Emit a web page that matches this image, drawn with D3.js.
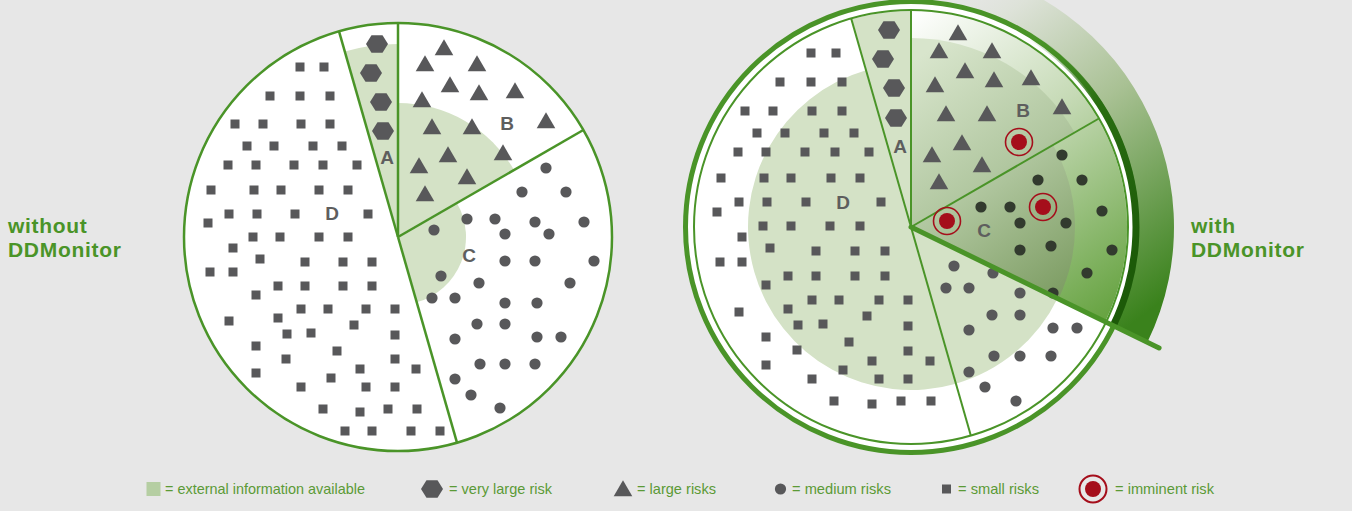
<!DOCTYPE html>
<html>
<head>
<meta charset="utf-8">
<script src="https://cdn.jsdelivr.net/npm/d3@7"></script>
<style>
body { margin: 0; background: #e7e7e7; overflow: hidden; }
</style>
</head>
<body>
<div id="chart"></div>
<script>
// slices of the risk pie, edges in degrees clockwise from 12 o'clock
var sliceNames = ["A", "B", "C", "D"];
var sliceEdges = [-16, 0, 60, 164, 344];
var hotEdge = 116; // monitored part of C ends here

// reach of the "external information" shading per slice
var shadeLeft = [193, 134, 68, 0];
var shadeRight = [216, 189, 163, 163];

// markers, offsets from the pie centre
var hexLeft = [[-21,-193],[-27,-164],[-17,-135],[-15,-106]];
var triLeft = [[46,-189],[27,-173],[79,-173],[52,-152],[81,-144],[117,-146],[24,-137],[34,-110],[74,-110],
               [148,-116],[50,-82],[105,-84],[21,-71],[69,-60],[27,-43]];
var dotLeft = [[148,-69],[124,-45],[168,-45],[69,-18],[97,-18],[137,-15],[186,-15],[107,-3],[151,-3],[36,-7],
               [107,24],[137,24],[196,24],[43,39],[81,46],[172,46],[34,61],[57,61],[107,66],[139,66],
               [79,87],[107,87],[57,102],[139,100],[163,100],[82,127],[107,127],[137,127],[57,142],[73,158],[102,171]];
var sqLeft = [[-98,-170],[-74,-170],[-128,-141],[-98,-141],[-68,-141],[-163,-113],[-135,-113],[-97,-113],[-68,-113],
              [-151,-91],[-124,-91],[-85,-91],[-56,-91],[-170,-72],[-142,-72],[-104,-72],[-75,-72],[-41,-72],
              [-187,-47],[-144,-47],[-117,-47],[-79,-47],[-50,-47],[-190,-14],[-169,-23],[-141,-23],[-103,-23],[-30,-23],
              [-145,0],[-118,0],[-79,0],[-50,0],[-165,11],[-138,22],[-93,25],[-55,25],[-26,25],[-188,35],[-165,35],
              [-142,58],[-120,49],[-93,49],[-55,49],[-26,49],[-97,72],[-70,72],[-32,72],[-3,72],
              [-169,84],[-120,81],[-111,97],[-87,96],[-44,88],[-3,98],[-142,109],[-112,122],[-61,114],[-3,122],
              [-142,136],[-97,150],[-67,141],[-38,132],[-32,150],[-3,150],[18,132],
              [-75,172],[-38,175],[-10,172],[19,172],[-53,194],[-26,194],[13,194],[42,194]];

var hexRight = [[-22,-197],[-28,-168],[-17,-139],[-15,-109]];
var triRight = [[47,-194],[28,-176],[81,-176],[54,-156],[83,-147],[120,-149],[24,-142],[35,-113],[76,-113],
                [151,-120],[51,-84],[21,-72],[71,-62],[28,-45]];
var dotRight = [[151,-72],[127,-47],[171,-47],[70,-20],[99,-20],[109,-4],[155,-4],[191,-16],[109,23],[140,19],
                [201,23],[176,46],[142,66],[43,39],[82,46],[35,61],[58,61],[109,66],[81,88],[109,88],
                [58,103],[142,101],[166,101],[83,129],[109,129],[140,129],[58,145],[74,160],[105,174]];
var sqRight = [[-100,-174],[-75,-174],[-131,-145],[-100,-145],[-69,-145],[-166,-116],[-138,-116],[-99,-116],[-69,-116],
               [-154,-94],[-126,-94],[-87,-94],[-57,-94],[-173,-75],[-145,-75],[-106,-75],[-76,-75],[-42,-75],
               [-190,-49],[-147,-49],[-120,-49],[-80,-49],[-51,-49],[-194,-15],[-172,-25],[-144,-25],[-105,-25],[-30,-25],
               [-148,-1],[-120,-1],[-81,-1],[-51,-1],[-169,10],[-141,21],[-95,24],[-56,24],[-26,24],[-191,35],[-169,35],
               [-145,58],[-123,49],[-95,49],[-56,49],[-26,49],[-99,73],[-72,73],[-32,73],[-3,73],
               [-172,85],[-123,82],[-113,98],[-88,97],[-44,89],[-3,99],[-145,110],[-114,123],[-62,115],[-3,124],
               [-145,138],[-99,152],[-68,143],[-39,134],[-32,152],[-3,152],[19,134],
               [-77,174],[-39,177],[-10,174],[20,174]];
var imminentRight = [[108,-85],[36,-6],[132,-20]];

// slice letters
var labelLeft = [[-11,-80],[109,-114],[71,18],[-66,-24]];
var labelRight = [[-11,-81],[112,-117],[73,3],[-68,-25]];

var titleLeft = ["without", "DDMonitor"];
var titleRight = ["with", "DDMonitor"];

var legendLabels = ["= external information available", "= very large risk", "= large risks",
                    "= medium risks", "= small risks", "= imminent risk"];
var legendKinds = ["shade", "hex", "tri", "dot", "sq", "imminent"];

// ---- layout / styles ----
var width = 1352, height = 511;
var green = "#4a9428";
var shade = "#d4e2c6";
var grey = "#58585a";
var red = "#a50e1b";
var rad = Math.PI / 180;

var svg = d3.select("#chart").append("svg")
    .attr("width", width)
    .attr("height", height);

svg.append("rect").attr("width", width).attr("height", height).attr("fill", "#e7e7e7");

// gradients are given relative to the right pie centre
var defs = svg.append("defs");
function grad(id, x1, y1, x2, y2, stops) {
    var g = defs.append("linearGradient").attr("id", id)
        .attr("gradientUnits", "userSpaceOnUse")
        .attr("x1", x1).attr("y1", y1).attr("x2", x2).attr("y2", y2);
    stops.forEach(function(s) {
        g.append("stop").attr("offset", s[0]).attr("stop-color", s[1]).attr("stop-opacity", s[2] == null ? 1 : s[2]);
    });
}
grad("band", 15, -240, 250, 75, [[0, "#e7e7e7", 0], [0.18, "#dde2d8"], [0.5, "#a9c194"], [1, "#3a821c"]]);
grad("hotOuter", 4, -217, 214, 73, [[0, "#ffffff"], [0.45, "#c6dab6"], [1, "#68a443"]]);
grad("hotInner", 4, -167, 169, 58, [[0, "#d8e5cc"], [0.5, "#b1c7a0"], [1, "#7c9c62"]]);
grad("darkRim", 120, -190, 225, 30, [[0, "#3f8a1f", 0], [0.35, "#2a6e12"], [1, "#1c5a08"]]);

var hexPath = d3.line()(d3.range(6).map(function(i) {
    return [11 * Math.cos(i * 60 * rad), 10 * Math.sin(i * 60 * rad)];
})) + "Z";
var triPath = d3.symbol(d3.symbolTriangle, 150)();

function sector(r0, r1, a0, a1) {
    return d3.arc().innerRadius(r0).outerRadius(r1).startAngle(a0 * rad).endAngle(a1 * rad)();
}

// draws one set of markers through the pie's scales
function drawMarkers(g, x, y, hexes, tris, dots, squares, dotColor) {
    g.append("g").selectAll("rect").data(squares).enter().append("rect")
        .attr("x", function(d) { return x(d[0]) - 4.5; })
        .attr("y", function(d) { return y(d[1]) - 4.5; })
        .attr("width", 9).attr("height", 9)
        .attr("fill", grey);
    g.append("g").selectAll("path").data(hexes).enter().append("path")
        .attr("d", hexPath)
        .attr("transform", function(d) { return "translate(" + x(d[0]) + "," + y(d[1]) + ")"; })
        .attr("fill", grey);
    g.append("g").selectAll("path").data(tris).enter().append("path")
        .attr("d", triPath)
        .attr("transform", function(d) { return "translate(" + x(d[0]) + "," + (y(d[1]) + 2) + ")"; })
        .attr("fill", grey);
    g.append("g").selectAll("circle").data(dots).enter().append("circle")
        .attr("cx", function(d) { return x(d[0]); })
        .attr("cy", function(d) { return y(d[1]); })
        .attr("r", 5.6)
        .attr("fill", dotColor);
}

function drawLabels(g, x, y, labels) {
    g.append("g").selectAll("text").data(labels).enter().append("text")
        .attr("x", function(d) { return x(d[0]); })
        .attr("y", function(d) { return y(d[1]); })
        .attr("dy", "0.36em")
        .attr("text-anchor", "middle")
        .style("font-family", "'Liberation Sans', Arial, sans-serif")
        .style("font-weight", "bold")
        .style("font-size", "19px")
        .attr("fill", "#5e5e5e")
        .text(function(d, i) { return sliceNames[i]; });
}

function drawTitle(x, lines) {
    svg.append("g").selectAll("text").data(lines).enter().append("text")
        .attr("x", x)
        .attr("y", function(d, i) { return 233 + i * 24; })
        .style("font-family", "'Liberation Sans', Arial, sans-serif")
        .style("font-weight", "bold")
        .style("font-size", "21px")
        .style("letter-spacing", "0.7px")
        .attr("fill", green)
        .text(function(d) { return d; });
}

// ---------- left pie: without DDMonitor ----------
var lcx = 398, lcy = 237, lr = 214;
var lx = d3.scaleLinear().domain([-lr, lr]).range([lcx - lr, lcx + lr]);
var ly = d3.scaleLinear().domain([-lr, lr]).range([lcy - lr, lcy + lr]);

var left = svg.append("g");
left.append("circle").attr("cx", lcx).attr("cy", lcy).attr("r", lr).attr("fill", "#fff");

var lpie = left.append("g").attr("transform", "translate(" + lcx + "," + lcy + ")");
shadeLeft.forEach(function(r, i) {
    if (r > 0) lpie.append("path").attr("d", sector(0, r, sliceEdges[i], sliceEdges[i + 1])).attr("fill", shade);
});
sliceEdges.slice(0, 4).forEach(function(a) {
    var p = d3.pointRadial(a * rad, lr);
    lpie.append("line").attr("x1", 0).attr("y1", 0).attr("x2", p[0]).attr("y2", p[1])
        .attr("stroke", green).attr("stroke-width", 2.5);
});
lpie.append("circle").attr("r", lr)
    .attr("fill", "none").attr("stroke", green).attr("stroke-width", 2.5);

drawMarkers(left, lx, ly, hexLeft, triLeft, dotLeft, sqLeft, grey);
drawLabels(left, lx, ly, labelLeft);

// ---------- right pie: with DDMonitor ----------
var rcx = 911, rcy = 227, rr = 216;
var rx = d3.scaleLinear().domain([-rr, rr]).range([rcx - rr, rcx + rr]);
var ry = d3.scaleLinear().domain([-rr, rr]).range([rcy - rr, rcy + rr]);

var right = svg.append("g");
var rpie = right.append("g").attr("transform", "translate(" + rcx + "," + rcy + ")");

// gradient band outside the monitored sector
rpie.append("path").attr("d", sector(224, 263, sliceEdges[1], hotEdge)).attr("fill", "url(#band)");
rpie.append("circle").attr("r", 225.5).attr("fill", "#fff").attr("stroke", green).attr("stroke-width", 5);

// shading
rpie.append("path").attr("d", sector(0, shadeRight[0], sliceEdges[0], sliceEdges[1])).attr("fill", shade);
rpie.append("path").attr("d", sector(0, rr, sliceEdges[1], hotEdge)).attr("fill", "url(#hotOuter)");
rpie.append("path").attr("d", sector(0, shadeRight[1], sliceEdges[1], sliceEdges[2])).attr("fill", "url(#hotInner)");
rpie.append("path").attr("d", sector(0, shadeRight[2] + 1, sliceEdges[2], hotEdge)).attr("fill", "url(#hotInner)");
rpie.append("path").attr("d", sector(0, shadeRight[2], hotEdge, sliceEdges[3])).attr("fill", shade);
rpie.append("path").attr("d", sector(0, shadeRight[3], sliceEdges[3], sliceEdges[4])).attr("fill", shade);

rpie.append("circle").attr("r", 217).attr("fill", "none").attr("stroke", green).attr("stroke-width", 2);
sliceEdges.slice(0, 4).forEach(function(a) {
    var p = d3.pointRadial(a * rad, 217);
    rpie.append("line").attr("x1", 0).attr("y1", 0).attr("x2", p[0]).attr("y2", p[1])
        .attr("stroke", green).attr("stroke-width", 2);
});

// darker rim along the monitored sector
rpie.append("path").attr("d", sector(221.5, 228.5, 30, hotEdge)).attr("fill", "url(#darkRim)");

// dots inside the monitored sector look darker
function inHot(d) {
    var a = Math.atan2(d[0], -d[1]) / rad;
    return a > sliceEdges[2] && a < hotEdge;
}
drawMarkers(right, rx, ry, hexRight, triRight, dotRight.filter(function(d) { return !inHot(d); }), sqRight, grey);
right.append("g").selectAll("circle").data(dotRight.filter(inHot)).enter().append("circle")
    .attr("cx", function(d) { return rx(d[0]); })
    .attr("cy", function(d) { return ry(d[1]); })
    .attr("r", 5.6)
    .attr("fill", "#323a2e");
drawLabels(right, rx, ry, labelRight);

// thick edge of the monitored sector
var pe = d3.pointRadial(hotEdge * rad, 276);
right.append("line")
    .attr("x1", rcx).attr("y1", rcy)
    .attr("x2", rcx + pe[0]).attr("y2", rcy + pe[1])
    .attr("stroke", green).attr("stroke-width", 5).attr("stroke-linecap", "round");

// imminent risks
var imm = right.append("g").selectAll("g").data(imminentRight).enter().append("g")
    .attr("transform", function(d) { return "translate(" + rx(d[0]) + "," + ry(d[1]) + ")"; });
imm.append("circle").attr("r", 13.5).attr("fill", "none").attr("stroke", red).attr("stroke-width", 1.6);
imm.append("circle").attr("r", 8).attr("fill", red);

// titles
drawTitle(8, titleLeft);
drawTitle(1191, titleRight);

// ---------- legend ----------
var legendSymX = [153.5, 432, 623, 780.5, 946.5, 1093];
var legendTextX = [165, 449, 637, 792, 958, 1115];
var legendTextW = [200, 103, 79, 99, 81, 99];
var legY = 489;

var legend = svg.append("g");
legendKinds.forEach(function(k, i) {
    var cx = legendSymX[i];
    if (k == "shade") {
        legend.append("rect").attr("x", cx - 7).attr("y", legY - 7).attr("width", 14).attr("height", 14).attr("fill", "#b5cea2");
    } else if (k == "hex") {
        legend.append("path").attr("d", hexPath).attr("transform", "translate(" + cx + "," + legY + ")").attr("fill", grey);
    } else if (k == "tri") {
        legend.append("path").attr("d", triPath).attr("transform", "translate(" + cx + "," + (legY + 2) + ")").attr("fill", grey);
    } else if (k == "dot") {
        legend.append("circle").attr("cx", cx).attr("cy", legY).attr("r", 5.6).attr("fill", grey);
    } else if (k == "sq") {
        legend.append("rect").attr("x", cx - 4.5).attr("y", legY - 4.5).attr("width", 9).attr("height", 9).attr("fill", grey);
    } else {
        legend.append("circle").attr("cx", cx).attr("cy", legY).attr("r", 13.5).attr("fill", "none").attr("stroke", red).attr("stroke-width", 2);
        legend.append("circle").attr("cx", cx).attr("cy", legY).attr("r", 8).attr("fill", red);
    }
    legend.append("text")
        .attr("x", legendTextX[i])
        .attr("y", legY + 5)
        .attr("textLength", legendTextW[i])
        .attr("lengthAdjust", "spacingAndGlyphs")
        .style("font-family", "'Liberation Sans Narrow', 'Liberation Sans', Arial, sans-serif")
        .style("font-size", "14.5px")
        .attr("fill", "#5b9a36")
        .text(legendLabels[i]);
});
</script>
</body>
</html>
